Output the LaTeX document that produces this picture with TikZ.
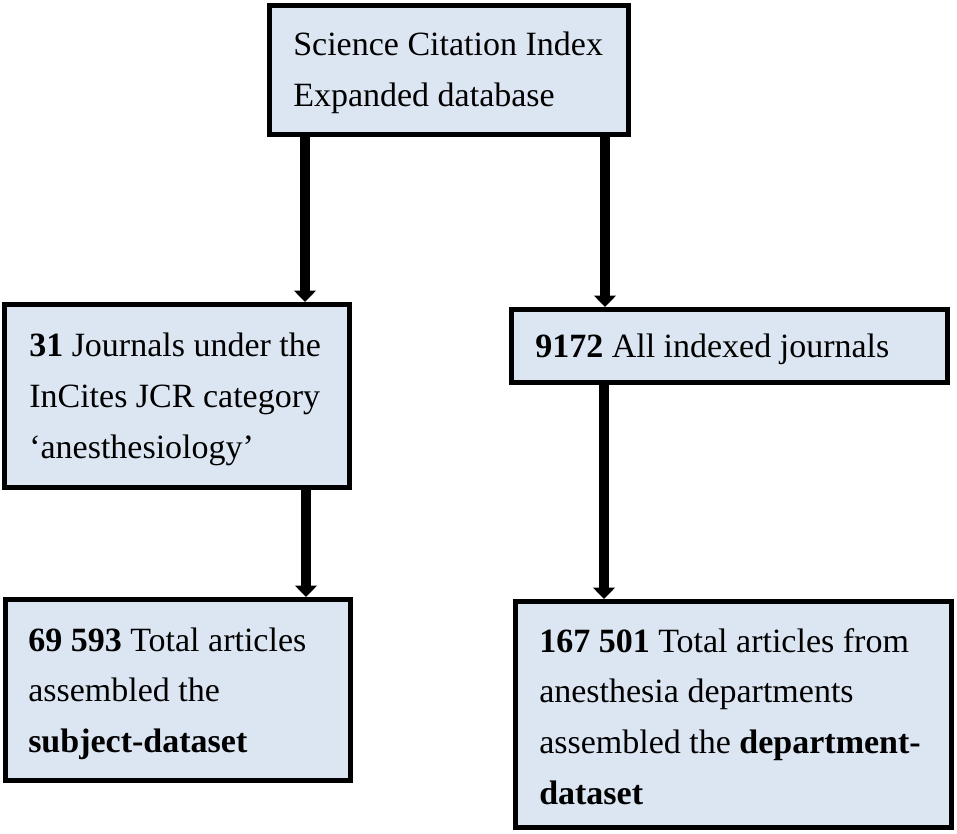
\documentclass[tikz,border=0pt]{standalone}
\usepackage{fontspec}
\setmainfont{Liberation Serif}
\usetikzlibrary{arrows.meta}
\definecolor{boxfill}{HTML}{DCE6F2}
\newcommand{\boxlines}[1]{\begin{tabular}[t]{@{}l@{}}#1\end{tabular}}
\begin{document}
\begin{tikzpicture}[x=0.75pt,y=-0.75pt,
  box/.style={draw=black, line width=3.75pt, fill=boxfill, rectangle, inner sep=0pt, anchor=north west},
  txt/.style={anchor=base west, inner sep=0pt, font=\fontsize{25.5}{38}\selectfont},
  arr/.style={draw=black, line width=7pt, -{Triangle[width=16pt,length=8.5pt]}}]
\useasboundingbox (0,0) rectangle (957,834);
% boxes
\node[box, minimum width=269.25pt, minimum height=96.75pt] (A) at (267,3) {};
\node[box, minimum width=258.75pt, minimum height=137.25pt] (B) at (2,302) {};
\node[box, minimum width=327pt, minimum height=54.75pt] (C) at (509,307) {};
\node[box, minimum width=258.75pt, minimum height=135.75pt] (D) at (3,597) {};
\node[box, minimum width=327pt, minimum height=169.5pt] (E) at (513,599) {};
% texts
\node[txt] (tA) at (293,56) {\boxlines{Science Citation Index\\Expanded database}};
\node[txt] (tB) at (29,357) {\boxlines{\textbf{31} Journals under the\\InCites JCR category\\‘anesthesiology’}};
\node[txt] (tC) at (535,358) {\boxlines{\textbf{9172} All indexed journals}};
\node[txt] (tD) at (28,651) {\boxlines{\textbf{69 593} Total articles\\assembled the\\\textbf{subject-dataset}}};
\node[txt] (tE) at (539,652) {\boxlines{\textbf{167 501} Total articles from\\anesthesia departments\\assembled the \textbf{department-}\\\textbf{dataset}}};
% arrow columns
\coordinate (xa) at (305,0);
\coordinate (xb) at (605,0);
\coordinate (xc) at (306,0);
\coordinate (xd) at (604,0);
\draw[arr] (A.south -| xa) -- (B.north -| xa);
\draw[arr] (A.south -| xb) -- (C.north -| xb);
\draw[arr] (B.south -| xc) -- (D.north -| xc);
\draw[arr] (C.south -| xd) -- (E.north -| xd);
\end{tikzpicture}
\end{document}
